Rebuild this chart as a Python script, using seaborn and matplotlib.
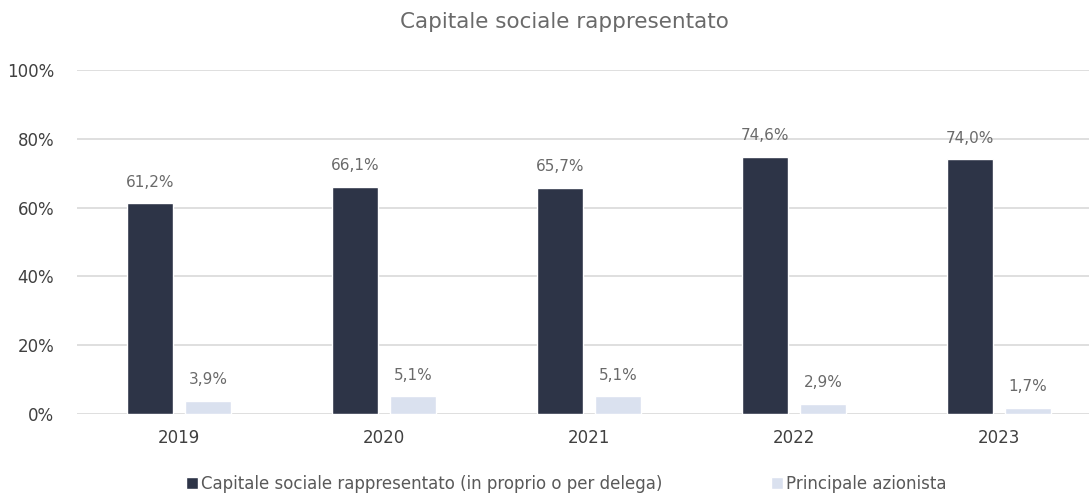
import seaborn as sns
import matplotlib.pyplot as plt
import pandas as pd

# Data
years = ["2019", "2020", "2021", "2022", "2023"]
capitale = [61.2, 66.1, 65.7, 74.6, 74.0]
azionista = [3.9, 5.1, 5.1, 2.9, 1.7]
series_names = ["Capitale sociale rappresentato (in proprio o per delega)",
                "Principale azionista"]
colors = ["#2d3447", "#dae1ef"]

df = pd.DataFrame({
    "Anno": years * 2,
    "Valore": capitale + azionista,
    "Serie": [series_names[0]] * len(years) + [series_names[1]] * len(years),
})

sns.set_style("white")
plt.rcParams["font.family"] = ["DejaVu Sans"]

fig = plt.figure(figsize=(10.89, 4.94), dpi=100)
ax = fig.add_axes([76.5 / 1089, 80 / 494, 1025 / 1089, 344 / 494])

sns.barplot(data=df, x="Anno", y="Valore", hue="Serie", palette=colors,
            width=0.566, gap=0.224, ax=ax, legend=True, saturation=1)

for cont in ax.containers:
    ax.bar_label(cont, labels=[f"{v:.1f}%".replace(".", ",") for v in cont.datavalues],
                 padding=10, fontsize=11, color="#6a6a6a")

ax.set_ylim(0, 100)
ax.set_yticks([0, 20, 40, 60, 80, 100])
ax.set_yticklabels([f"{t}%" for t in [0, 20, 40, 60, 80, 100]])
ax.yaxis.grid(True, color="#dcdcdc", linewidth=1.3)
ax.set_axisbelow(True)
for s in ax.spines.values():
    s.set_visible(False)
ax.tick_params(axis="both", length=0, labelsize=12, labelcolor="#404040")
ax.tick_params(axis="y", pad=16)
ax.tick_params(axis="x", pad=11)
ax.set_xlabel("")
ax.set_ylabel("")

fig.text(0.518, 0.955, "Capitale sociale rappresentato", ha="center", va="center",
         fontsize=15.5, color="#6a6a6a")

handles, labels = ax.get_legend_handles_labels()
ax.legend(handles, labels, loc="center", bbox_to_anchor=(0.52, 0.02),
          bbox_transform=fig.transFigure, ncol=2, frameon=False,
          fontsize=12, labelcolor="#595959", handlelength=0.7, handleheight=0.7,
          handletextpad=0.2, columnspacing=6.5)

fig.savefig("out.png", dpi=100)
